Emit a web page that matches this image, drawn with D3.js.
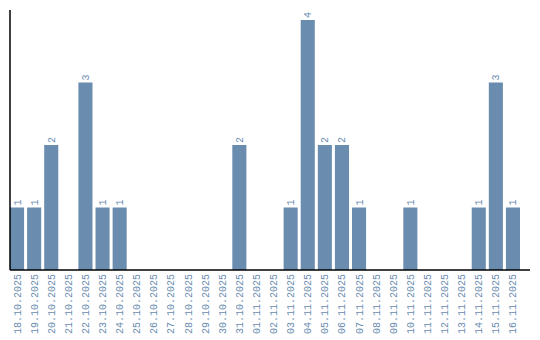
<!DOCTYPE html>
<html>
<head>
<meta charset="utf-8">
<script src="https://cdn.jsdelivr.net/npm/d3@7"></script>
<style>
  body { margin: 0; background: #fff; }
</style>
</head>
<body>
<div id="chart"></div>
<script>
const dates = [
  "18.10.2025", "19.10.2025", "20.10.2025", "21.10.2025", "22.10.2025",
  "23.10.2025", "24.10.2025", "25.10.2025", "26.10.2025", "27.10.2025",
  "28.10.2025", "29.10.2025", "30.10.2025", "31.10.2025", "01.11.2025",
  "02.11.2025", "03.11.2025", "04.11.2025", "05.11.2025", "06.11.2025",
  "07.11.2025", "08.11.2025", "09.11.2025", "10.11.2025", "11.11.2025",
  "12.11.2025", "13.11.2025", "14.11.2025", "15.11.2025", "16.11.2025"
];
const counts = [
  1, 1, 2, 0, 3,
  1, 1, 0, 0, 0,
  0, 0, 0, 2, 0,
  0, 1, 4, 2, 2,
  1, 0, 0, 1, 0,
  0, 0, 1, 3, 1
];

const data = dates.map((d, i) => ({ date: d, count: counts[i] }));

const width = 540;
const height = 340;
const margin = { top: 10, right: 10, bottom: 70, left: 10 };
const color = "#6a8caf";

const svg = d3.select("#chart").append("svg")
  .attr("width", width)
  .attr("height", height)
  .style("font-family", "'Liberation Mono', monospace");

const x = d3.scaleBand()
  .domain(dates)
  .range([margin.left, margin.left + 510])
  .paddingInner(3 / 17)
  .paddingOuter(0)
  .align(0);

const y = d3.scaleLinear()
  .domain([0, 4])
  .range([height - margin.bottom, 20]);

// Bars
svg.append("g")
  .selectAll("rect")
  .data(data.filter(d => d.count > 0))
  .join("rect")
  .attr("x", d => x(d.date))
  .attr("y", d => y(d.count))
  .attr("width", x.bandwidth())
  .attr("height", d => y(0) - y(d.count))
  .attr("fill", color);

// Value labels
svg.append("g")
  .selectAll("text")
  .data(data.filter(d => d.count > 0))
  .join("text")
  .attr("transform", d => `translate(${x(d.date) + x.bandwidth() / 2},${y(d.count) - 2}) rotate(-90)`)
  .attr("dy", "0.35em")
  .attr("text-anchor", "start")
  .style("font-size", "10px")
  .style("fill", color)
  .text(d => d.count);

// X tick labels
svg.append("g")
  .selectAll("text")
  .data(dates)
  .join("text")
  .attr("transform", d => `translate(${x(d) + x.bandwidth() / 2},${y(0) + 4}) rotate(-90)`)
  .attr("dy", "0.35em")
  .attr("text-anchor", "end")
  .style("font-size", "10px")
  .style("fill", color)
  .text(d => d);

// Axis lines
svg.append("line")
  .attr("x1", margin.left).attr("x2", width - margin.right)
  .attr("y1", y(0)).attr("y2", y(0))
  .attr("stroke", "#000")
  .attr("stroke-width", 1.5);

svg.append("line")
  .attr("x1", margin.left).attr("x2", margin.left)
  .attr("y1", margin.top).attr("y2", y(0))
  .attr("stroke", "#000")
  .attr("stroke-width", 1.5);
</script>
</body>
</html>
